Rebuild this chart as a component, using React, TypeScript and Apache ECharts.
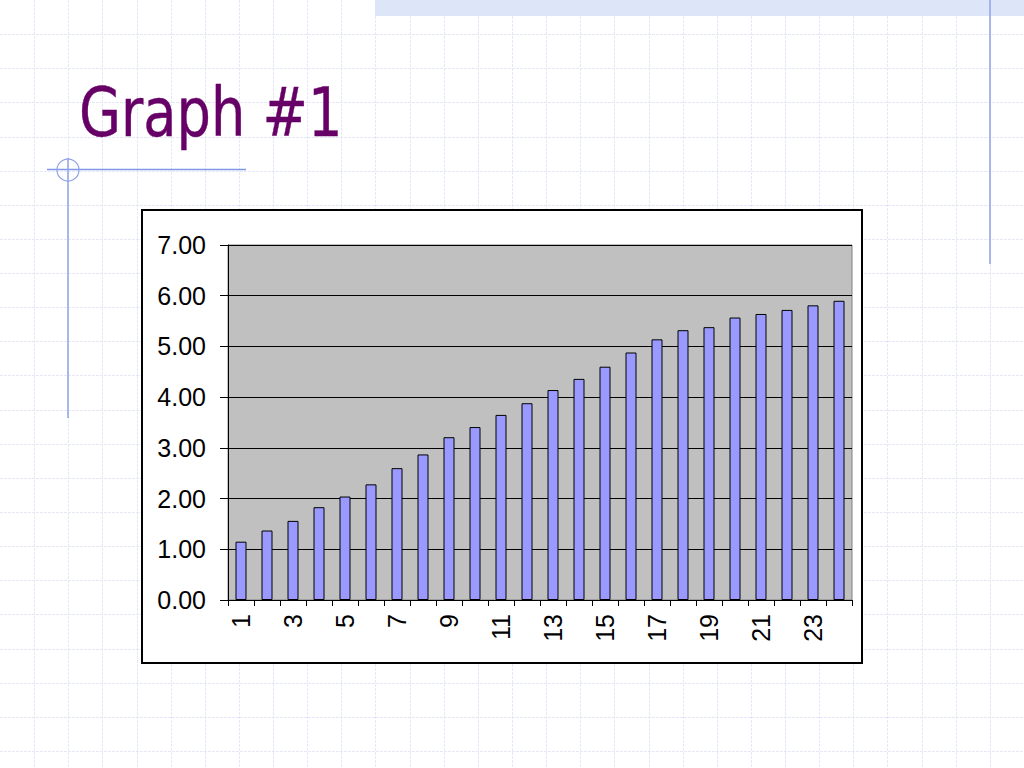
import React, { useEffect, useRef } from "react";
import * as echarts from "echarts";

const categories: string[] = [
  "1", "2", "3", "4", "5", "6", "7", "8", "9", "10", "11", "12",
  "13", "14", "15", "16", "17", "18", "19", "20", "21", "22", "23", "24",
];
const values: number[] = [
  1.15, 1.37, 1.56, 1.83, 2.04, 2.28, 2.6, 2.87, 3.21, 3.41, 3.65, 3.88,
  4.14, 4.36, 4.6, 4.88, 5.14, 5.32, 5.38, 5.57, 5.64, 5.72, 5.81, 5.9,
];
const titleText = "Graph #1";

export default function App() {
  const ref = useRef<HTMLDivElement>(null);
  useEffect(() => {
    if (!ref.current) return;
    const chart = echarts.init(ref.current, undefined, { renderer: "svg" });
    const bg: any[] = [];
    const step = 1024 / 30;
    for (let i = 1; i < 30; i++) {
      const x = Math.round(i * step) + 0.5;
      bg.push({
        type: "line", z: -100,
        shape: { x1: x, y1: 0, x2: x, y2: 768 },
        style: { stroke: "#e4e8f7", lineWidth: 1, lineDash: [3, 1] },
      });
    }
    for (let j = 1; j < 23; j++) {
      const y = Math.round(j * step) + 0.5;
      bg.push({
        type: "line", z: -100,
        shape: { x1: 0, y1: y, x2: 1024, y2: y },
        style: { stroke: "#e4e8f7", lineWidth: 1, lineDash: [3, 1] },
      });
    }
    const option: any = {
      animation: false,
      backgroundColor: "#ffffff",
      graphic: [
        ...bg,
        { type: "rect", z: -90, shape: { x: 375, y: 0, width: 649, height: 16 }, style: { fill: "#dde5f8" } },
        { type: "line", z: -80, shape: { x1: 990, y1: 0, x2: 990, y2: 264 }, style: { stroke: "#8fa3e6", lineWidth: 1.5 } },
        { type: "line", z: -80, shape: { x1: 47, y1: 169.5, x2: 246, y2: 169.5 }, style: { stroke: "#7f97e6", lineWidth: 1.5 } },
        { type: "line", z: -80, shape: { x1: 68, y1: 158, x2: 68, y2: 418 }, style: { stroke: "#8fa3e6", lineWidth: 1.5 } },
        { type: "circle", z: -80, shape: { cx: 68, cy: 170, r: 11 }, style: { fill: "none", stroke: "#8fa3e6", lineWidth: 1.2 } },
        {
          type: "text", z: -70, x: 79, y: 146, scaleX: 0.9,
          style: {
            text: titleText,
            font: '67px "DejaVu Sans Condensed", "DejaVu Sans", sans-serif',
            fill: "#660066",
            stroke: "#660066",
            lineWidth: 0.4,
            textVerticalAlign: "bottom",
            verticalAlign: "alphabetic",
          },
        },
        { type: "rect", z: -60, shape: { x: 142, y: 210, width: 720, height: 453 }, style: { fill: "#ffffff", stroke: "#000000", lineWidth: 2 } },
      ],
      grid: {
        left: 228, right: 172, top: 245, bottom: 168,
        show: true, backgroundColor: "#c0c0c0", borderColor: "#808080", borderWidth: 1,
      },
      xAxis: {
        type: "category",
        data: categories,
        boundaryGap: true,
        axisLine: { lineStyle: { color: "#000", width: 1 } },
        axisTick: { show: true, interval: 0, length: 6, lineStyle: { color: "#000" } },
        axisLabel: {
          interval: 1, rotate: 90, margin: 14, color: "#000",
          fontFamily: '"Liberation Sans", Arial, sans-serif', fontSize: 25,
        },
      },
      yAxis: {
        type: "value", min: 0, max: 7, interval: 1,
        axisLine: { show: true, lineStyle: { color: "#000", width: 1 } },
        axisTick: { show: true, length: 8, lineStyle: { color: "#000" } },
        splitLine: { show: true, lineStyle: { color: "#000", width: 1 } },
        axisLabel: {
          formatter: (v: number) => v.toFixed(2), margin: 22, color: "#000",
          fontFamily: '"Liberation Sans", Arial, sans-serif', fontSize: 25,
        },
      },
      series: [
        {
          type: "bar",
          data: values,
          barWidth: 11,
          itemStyle: { color: "#9999ff", borderColor: "#000", borderWidth: 1 },
        },
      ],
    };
    chart.setOption(option);
    return () => chart.dispose();
  }, []);
  return (
    <div
      ref={ref}
      style={{ position: "absolute", left: 0, top: 0, width: 1024, height: 768 }}
    />
  );
}
